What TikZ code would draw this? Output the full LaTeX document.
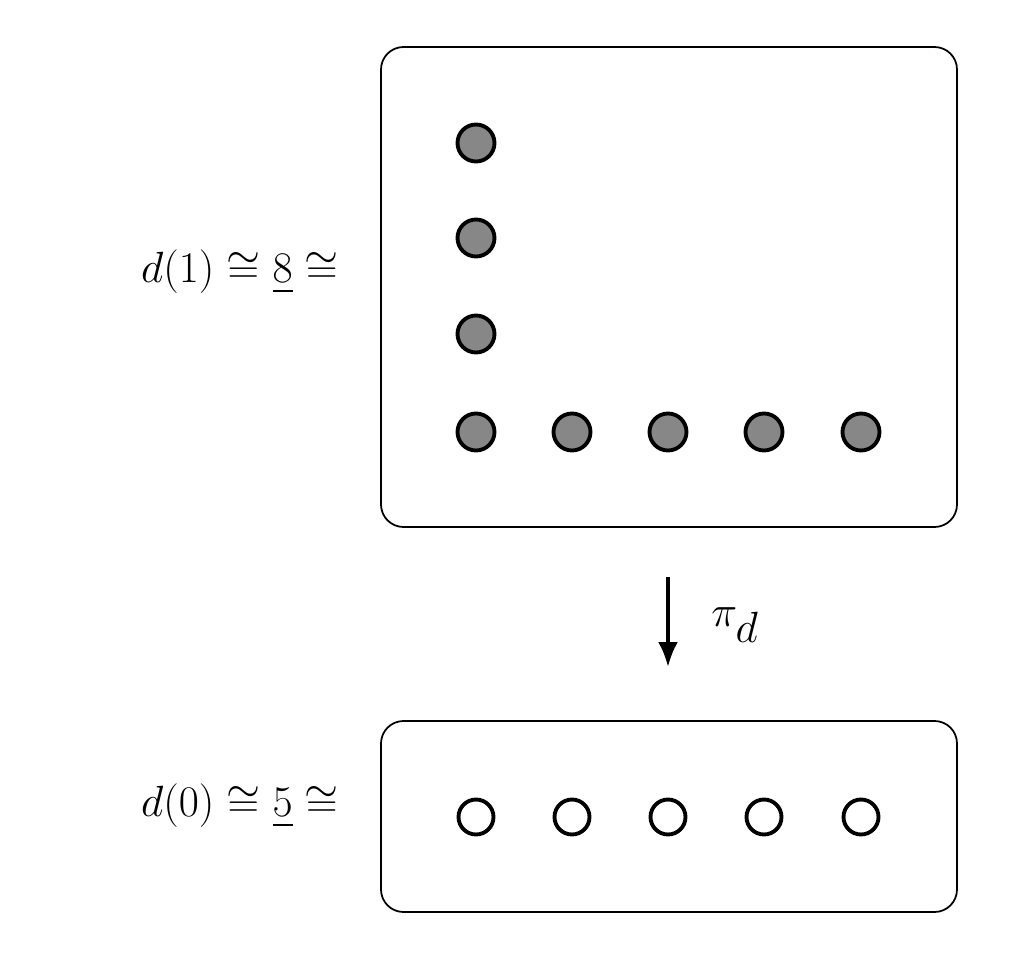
\documentclass[tikz,border=0pt]{standalone}
\usepackage{amsmath,amssymb}
\usetikzlibrary{arrows.meta}
\begin{document}
\begin{tikzpicture}[x=0.02cm,y=-0.02cm,
  box/.style={draw,line width=1pt,rounded corners=0.45cm},
  fdot/.style={circle,draw,line width=2.2pt,fill=gray!95!black!90,minimum size=0.74cm,inner sep=0},
  odot/.style={circle,draw,line width=2.2pt,fill=white,minimum size=0.7cm,inner sep=0},
  lab/.style={font=\fontsize{33}{40}\selectfont,anchor=east}]
\useasboundingbox (0,0) rectangle (1024,966);
\draw[box] (381,47) rectangle (957,527);
\draw[box] (381,721) rectangle (957,912);
\node[fdot] (a1) at (476,143) {};
\node[fdot] (a2) at (476,238) {};
\node[fdot] (a3) at (476,334) {};
\foreach \x/\n in {476/b1,572/b2,668/b3,764/b4,861/b5}{
  \node[fdot] (\n) at (\x,432) {};
  \node[odot] (o\n) at (\x,817) {};
}
\node[lab] (l1) at (345,272) {$d(1)\cong\underline{8}\cong$};
\node[lab] (l0) at (345,806) {$d(0)\cong\underline{5}\cong$};
\coordinate (s) at (668,577);
\coordinate (t) at (668,667);
\draw[line width=2.2pt,-{Latex[length=0.5cm,width=0.4cm]}] (s) -- (t);
\node[font=\fontsize{33}{40}\selectfont] (pi) at (735,625) {$\pi_d$};
\end{tikzpicture}
\end{document}
